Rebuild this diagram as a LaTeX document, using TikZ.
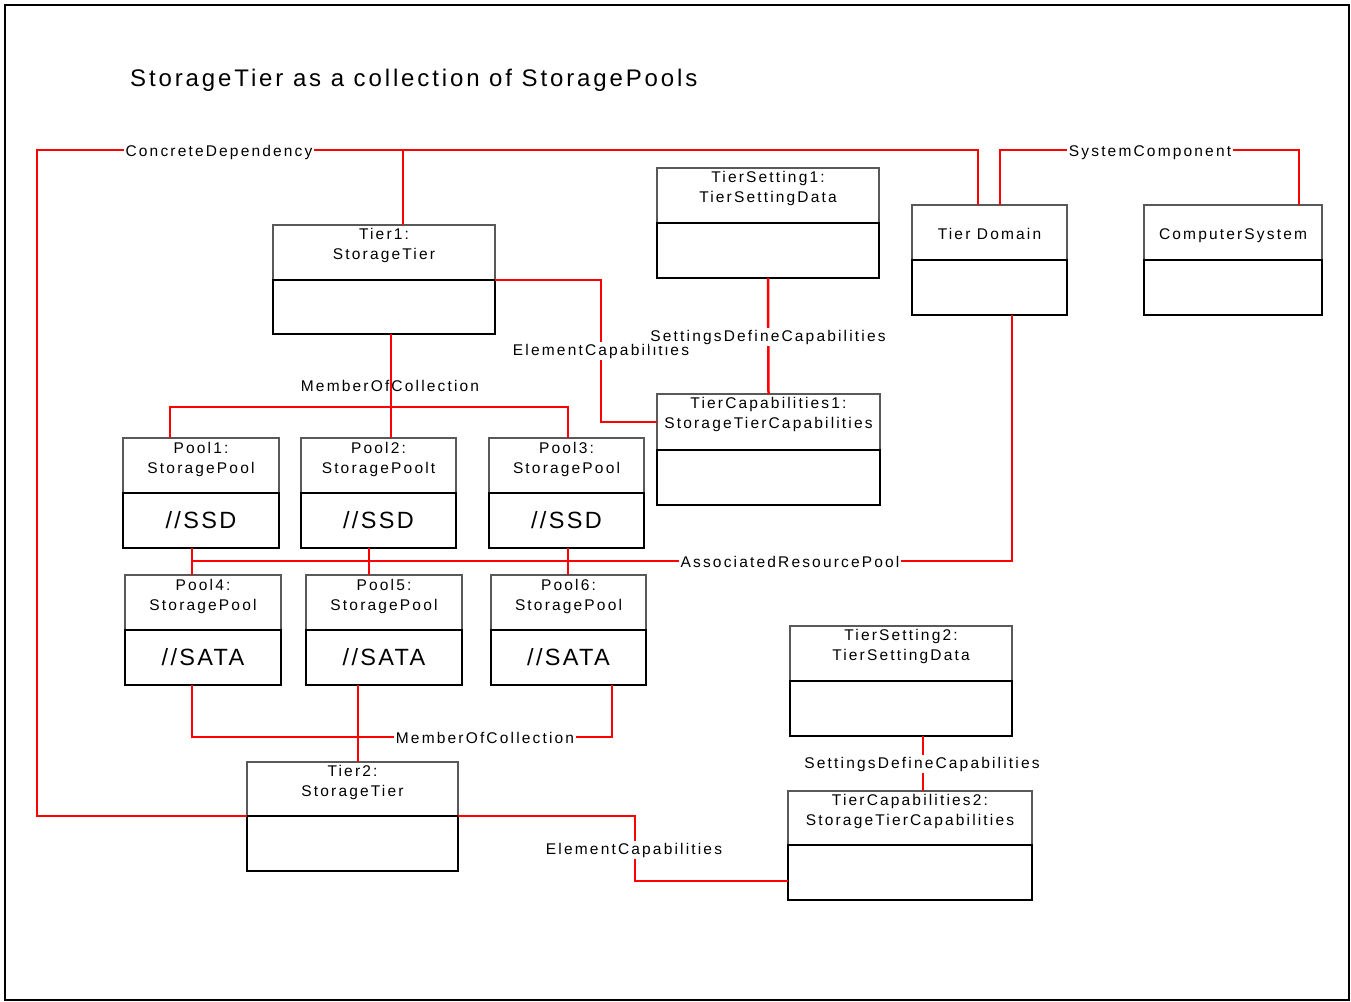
\documentclass[tikz,border=0pt]{standalone}
\usepackage{fontspec}
\setmainfont{Liberation Sans}
\newfontfamily\lblfam[LetterSpace=14]{Liberation Sans}
\newfontfamily\bigfam[LetterSpace=10]{Liberation Sans}
\newfontfamily\ttlfam[LetterSpace=12]{Liberation Sans}
\definecolor{relred}{RGB}{255,0,0}
\tikzset{
  hdr/.style={draw=black!65, line width=1.2pt, fill=white, inner sep=0pt, outer sep=0pt},
  bdy/.style={draw=black, line width=1.8pt, fill=white, inner sep=0pt, outer sep=0pt, font=\bigfam\fontsize{23.5}{26}\selectfont},
  lbl/.style={align=center, inner sep=0pt, font=\lblfam\fontsize{15.5}{20}\selectfont},
  rel/.style={draw=relred, line width=2.5pt},
  rlbl/.style={inner sep=1.5pt, fill=white, anchor=base, yshift=-6pt, font=\lblfam\fontsize{15.5}{18}\selectfont},
  rlblclear/.style={inner sep=1.5pt, anchor=base, yshift=-6pt, font=\lblfam\fontsize{15.5}{18}\selectfont},
}
% name, x1, x2, top, divider, bottom, header text, header text y, body text
\newcommand\umlbox[9]{%
  \node[hdr, minimum width={(#3-#2)*1pt}, minimum height={(#5-#4)*1pt}] (#1h) at ({(#2+#3)/2},{(#4+#5)/2}) {};
  \node[bdy, minimum width={(#3-#2)*1pt}, minimum height={(#6-#5)*1pt}] (#1b) at ({(#2+#3)/2},{(#5+#6)/2}) {#9};
  \node[lbl] (#1t) at ({(#2+#3)/2},#8) {#7};
}
\begin{document}
\begin{tikzpicture}[x=1pt, y=-1pt]
\useasboundingbox (0,0) rectangle (1351,1001);
\draw[line width=2pt] (5,5) rectangle (1349,1000);
\node[font=\ttlfam\fontsize{24}{26}\selectfont, anchor=base west, inner sep=0pt] (title) at (130,86) {StorageTier as a collection of StoragePools};

% ---- bend points of the connectors ----
\coordinate (cdA) at (37,816);
\coordinate (cdB) at (37,150);
\coordinate (cdC) at (978,150);
\coordinate (cdT) at (403,150);
\coordinate (scA) at (1000,150);
\coordinate (scB) at (1299,150);
\coordinate (ecA) at (601,280);
\coordinate (ecB) at (601,422);
\coordinate (mcA) at (391,407);
\coordinate (mcL) at (170,407);
\coordinate (mcR) at (568,407);
\coordinate (arA) at (192,561);
\coordinate (arM) at (369,561);
\coordinate (arR) at (568,561);
\coordinate (arB) at (1012,561);
\coordinate (mbA) at (192,737);
\coordinate (mbB) at (612,737);
\coordinate (mbC) at (358,737);
\coordinate (e2A) at (635,816);
\coordinate (e2B) at (635,881);
\coordinate (sd2) at (923,760);

% boxes
\umlbox{t1}{273}{495}{225}{280}{334}{Tier1:\\StorageTier}{245}{}
\umlbox{ts1}{657}{879}{168}{223}{278}{TierSetting1:\\TierSettingData}{188.5}{}
\umlbox{td}{912}{1067}{205}{260}{315}{Tier Domain}{234}{}
\umlbox{cs}{1144}{1322}{205}{260}{315}{ComputerSystem}{235.5}{}
\umlbox{tc1}{657}{880}{394}{450}{505}{TierCapabilities1:\\StorageTierCapabilities}{414.5}{}
\umlbox{p1}{123}{279}{438}{493}{548}{Pool1:\\StoragePool}{459}{//SSD}
\umlbox{p2}{301}{456}{438}{493}{548}{Pool2:\\StoragePoolt}{459}{//SSD}
\umlbox{p3}{489}{644}{438}{493}{548}{Pool3:\\StoragePool}{459}{//SSD}
\umlbox{p4}{125}{281}{575}{630}{685}{Pool4:\\StoragePool}{596}{//SATA}
\umlbox{p5}{306}{462}{575}{630}{685}{Pool5:\\StoragePool}{596}{//SATA}
\umlbox{p6}{491}{646}{575}{630}{685}{Pool6:\\StoragePool}{596}{//SATA}
\umlbox{ts2}{790}{1012}{626}{681}{736}{TierSetting2:\\TierSettingData}{646}{}
\umlbox{t2}{247}{458}{762}{816}{871}{Tier2:\\StorageTier}{782}{}
\umlbox{tc2}{788}{1032}{791}{845}{900}{TierCapabilities2:\\StorageTierCapabilities}{811.5}{}

% ConcreteDependency
\draw[rel] (t2b.north west) -- (cdA) -- (cdB) -- (cdC) -- (cdC |- tdh.north);
\draw[rel] (cdT) -- (cdT |- t1h.north);
\node[rlbl] (cdl) at (219,150) {ConcreteDependency};

% SystemComponent
\draw[rel] (scA |- tdh.north) -- (scA) -- (scB) -- (scB |- csh.north);
\node[rlbl] (scl) at (1150,150) {SystemComponent};

% ElementCapabilities 1
\draw[rel] (t1b.north east) -- (ecA) -- (ecB) -- (tc1h.west |- ecB);
\node[rlbl] (ec1l) at (601,349) {ElementCapabilities};

% SettingsDefineCapabilities 1
\draw[rel] (ts1b.south) -- (tc1h.north);
\node[rlbl] (sd1l) at (768,335) {SettingsDefineCapabilities};

% MemberOfCollection (top)
\node[rlblclear] (mc1l) at (390,385) {MemberOfCollection};
\draw[rel] (mcA |- t1b.south) -- (mcA |- p2h.north);
\draw[rel] (mcL |- p1h.north) -- (mcL) -- (mcR) -- (mcR |- p3h.north);

% AssociatedResourcePool
\draw[rel] (arA |- p1b.south) -- (arA |- p4h.north);
\draw[rel] (arM |- p2b.south) -- (arM |- p5h.north);
\draw[rel] (arR |- p3b.south) -- (arR |- p6h.north);
\draw[rel] (arA) -- (arB) -- (arB |- tdb.south);
\node[rlbl] (arl) at (790,561) {AssociatedResourcePool};

% MemberOfCollection (bottom)
\draw[rel] (mbA |- p4b.south) -- (mbA) -- (mbB) -- (mbB |- p6b.south);
\draw[rel] (mbC |- p5b.south) -- (mbC |- t2h.north);
\node[rlbl] (mc2l) at (485,737) {MemberOfCollection};

% ElementCapabilities 2
\draw[rel] (t2b.north east) -- (e2A) -- (e2B) -- (tc2b.west |- e2B);
\node[rlbl] (ec2l) at (634,848) {ElementCapabilities};

% SettingsDefineCapabilities 2
\draw[rel] (sd2 |- ts2b.south) -- (sd2 |- tc2h.north);
\node[rlbl] (sd2l) at (922,762) {SettingsDefineCapabilities};
\end{tikzpicture}
\end{document}
